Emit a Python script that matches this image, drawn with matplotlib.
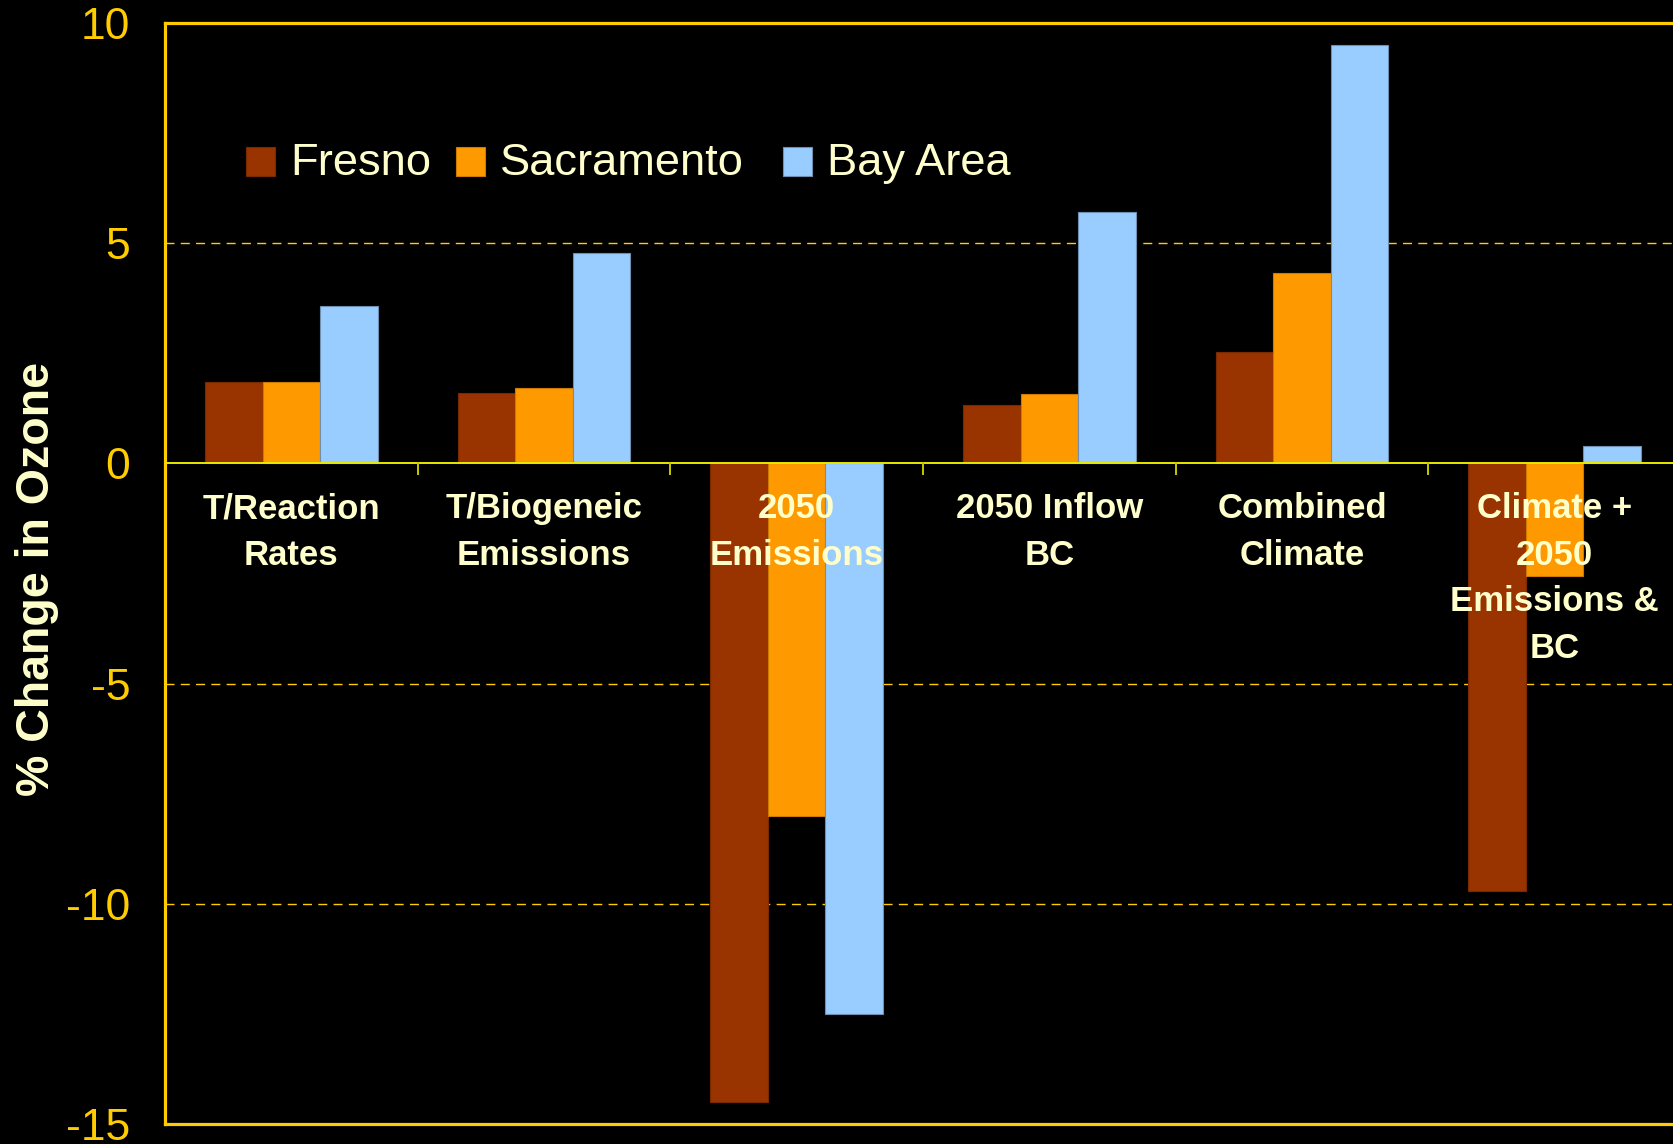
import matplotlib
matplotlib.use("Agg")
import matplotlib.pyplot as plt
import matplotlib.transforms as mtransforms
from matplotlib.patches import Rectangle
import numpy as np

# Scenario categories and % change in ozone per region
categories = [
    "T/Reaction\nRates",
    "T/Biogeneic\nEmissions",
    "2050\nEmissions",
    "2050 Inflow\nBC",
    "Combined\nClimate",
    "Climate +\n2050\nEmissions &\nBC",
]
regions = ["Fresno", "Sacramento", "Bay Area"]
fresno = [1.85, 1.60, -14.5, 1.32, 2.52, -9.72]
sacramento = [1.85, 1.72, -8.0, 1.58, 4.32, -2.55]
bay_area = [3.57, 4.78, -12.5, 5.70, 9.50, 0.40]
yticks = [10, 5, 0, -5, -10, -15]

series = [fresno, sacramento, bay_area]
colors = ["#993300", "#FF9900", "#99CCFF"]
edges = ["#7A2900", "#CC7A00", "#6F8FB0"]

GOLD = "#FFCC00"
CREAM = "#FFFFCC"
ZERO = "#E8E800"

plt.rcParams["font.family"] = ["Liberation Sans", "DejaVu Sans"]

W, H = 1674, 1144
fig = plt.figure(figsize=(W / 100, H / 100), dpi=100, facecolor="black")
ax = fig.add_axes([165 / W, 20 / H, 1516 / W, 1101 / H])
ax.set_facecolor("black")

x = np.arange(len(categories))
w = 0.2275
for j, (vals, c, ec) in enumerate(zip(series, colors, edges)):
    ax.bar(x + (j - 1) * w, vals, width=w, color=c, edgecolor=ec,
           linewidth=0.8, zorder=3)

ax.set_xlim(-0.5, len(categories) - 0.5)
ax.set_ylim(-15, 10)

# dashed horizontal gridlines
for yv in [5, -5, -10]:
    ax.axhline(yv, color=GOLD, lw=1.0, ls=(0, (6.5, 4.5)), zorder=1)

# zero line with short separators between categories
ax.axhline(0, color=ZERO, lw=1.4, zorder=4)
for b in np.arange(0.5, len(categories) - 0.5, 1.0):
    ax.plot([b, b], [0, -11 / 44.04], color="#C8C800", lw=1.4, zorder=4)

# outer frame
for side in ["left", "top", "bottom"]:
    ax.spines[side].set_color(GOLD)
    ax.spines[side].set_linewidth(2.3)
ax.spines["right"].set_visible(False)

ax.set_xticks([])
ax.set_yticks(yticks)
ax.set_yticklabels([str(v) for v in yticks])
ax.tick_params(axis="y", length=0, pad=25, labelsize=32, labelcolor=GOLD)

# category labels hanging below the zero line
lab_tr = mtransforms.offset_copy(ax.transData, fig=fig, y=-29, units="dots")
for i, lab in enumerate(categories):
    ax.text(i, 0, lab, transform=lab_tr, ha="center", va="top",
            fontsize=25, fontweight="bold", color=CREAM,
            linespacing=1.52, zorder=6)

fig.text(37 / W, 1 - 579 / H, "% Change in Ozone", rotation=90,
         ha="center", va="center", fontsize=33.5, fontweight="bold",
         color=CREAM)

# legend row: swatch + name for each region
legend_x = [246, 456, 783]
legend_y = 161
sw = 29
for lx, name, c, ec in zip(legend_x, regions, colors, edges):
    fig.add_artist(Rectangle((lx / W, (H - legend_y - sw / 2) / H),
                             sw / W, sw / H, transform=fig.transFigure,
                             facecolor=c, edgecolor=ec, linewidth=0.8))
    fig.text((lx + sw + 15) / W, 1 - (legend_y - 2) / H, name,
             ha="left", va="center_baseline", fontsize=32.6, color=CREAM)

fig.savefig("out.png", dpi=100, facecolor="black")
